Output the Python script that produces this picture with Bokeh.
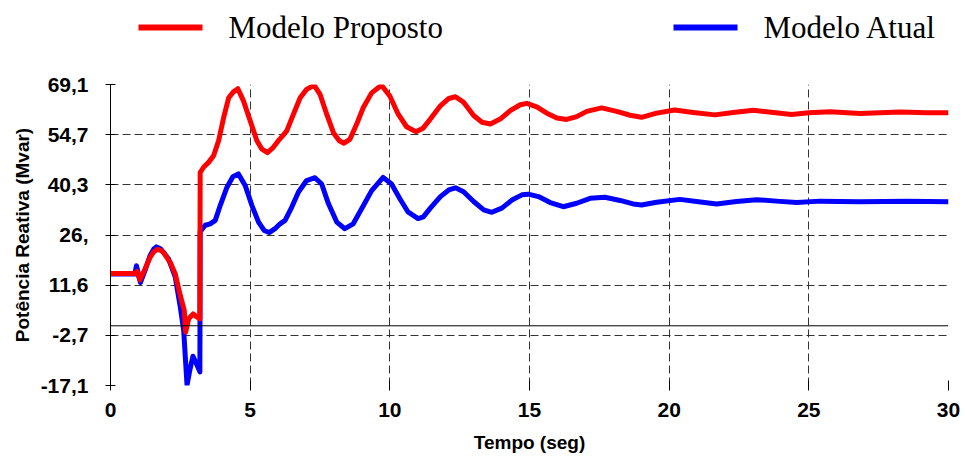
from bokeh.plotting import figure
from bokeh.layouts import column
from bokeh.models import FixedTicker, Span, Range1d
from bokeh.core.properties import value
from bokeh.embed import file_html
from bokeh.resources import INLINE

# ---- data ----
t_proposto = [0, 0.87, 0.95, 1.05, 1.23, 1.41, 1.55, 1.68, 1.80, 1.90, 2.14, 2.32, 2.50, 2.64,
              2.69, 2.80, 2.96, 3.08, 3.20, 3.21, 3.33, 3.51, 3.69, 3.87, 4.05, 4.23, 4.40,
              4.56, 4.76, 5.00, 5.24, 5.42, 5.62, 5.83, 6.05, 6.13, 6.31, 6.55, 6.79, 7.02,
              7.29, 7.50, 7.74, 7.98, 8.19, 8.36, 8.57, 8.81, 9.05, 9.35, 9.70, 10.00, 10.30,
              10.60, 10.93, 11.19, 11.45, 11.81, 12.11, 12.35, 12.64, 13.00, 13.30, 13.60,
              13.95, 14.31, 14.67, 14.90, 15.26, 15.62, 15.98, 16.33, 16.69, 17.05, 17.58,
              18.12, 18.60, 19.01, 19.55, 20.20, 20.86, 21.64, 22.29, 23.01, 23.73, 24.38,
              25.00, 25.76, 26.83, 28.27, 29.22, 30.00]
q_proposto = [15.0, 15.0, 15.6, 13.1, 16.2, 19.5, 21.2, 21.9, 21.6, 21.0, 18.1, 14.8, 8.6, 4.4,
              -1.8, 2.0, 3.4, 2.6, 2.0, 43.9, 45.4, 46.8, 48.7, 53.0, 59.6, 65.3, 67.0,
              67.9, 64.4, 58.7, 53.0, 50.6, 49.6, 51.1, 53.4, 54.1, 55.8, 60.6, 65.3, 67.7,
              68.9, 66.3, 60.6, 55.3, 53.0, 52.3, 53.4, 57.7, 62.5, 66.7, 68.9, 65.8, 60.6,
              57.0, 55.6, 56.6, 59.2, 63.0, 65.1, 65.6, 64.0, 60.2, 58.3, 57.8,
              59.2, 61.6, 63.3, 63.7, 62.7, 60.9, 59.5, 59.1, 59.9, 61.4, 62.4,
              61.4, 60.3, 59.7, 60.9, 61.8, 61.1, 60.4, 61.1, 61.7, 61.1, 60.5,
              61.0, 61.3, 60.8, 61.2, 61.0, 61.0]

t_atual = [0, 0.87, 0.93, 1.07, 1.23, 1.41, 1.55, 1.65, 1.80, 2.08, 2.32, 2.50, 2.62, 2.74,
           2.84, 2.95, 3.10, 3.20, 3.21, 3.39, 3.57, 3.75, 3.93, 4.17, 4.38, 4.58, 4.82,
           5.06, 5.30, 5.50, 5.68, 5.89, 6.07, 6.25, 6.49, 6.73, 7.02, 7.32, 7.56, 7.80,
           8.10, 8.39, 8.69, 8.99, 9.35, 9.76, 10.06, 10.36, 10.65, 11.01, 11.20, 11.45,
           11.81, 12.11, 12.35, 12.64, 13.00, 13.36, 13.65, 14.01, 14.37, 14.73, 14.96,
           15.32, 15.74, 16.21, 16.69, 17.17, 17.70, 18.24, 18.71, 19.01, 19.55, 20.38,
           20.98, 21.70, 22.41, 23.13, 23.84, 24.56, 25.40, 26.83, 28.51, 30.00]
q_atual = [14.8, 14.8, 17.2, 12.4, 15.7, 20.0, 22.0, 22.6, 22.0, 19.1, 13.9, 5.3, -1.3, -17.0,
           -12.7, -8.7, -11.3, -13.2, 26.9, 28.8, 29.2, 30.2, 34.5, 39.7, 42.7, 43.5, 40.2,
           34.5, 29.7, 27.3, 26.7, 27.8, 29.2, 30.2, 34.0, 38.3, 41.6, 42.4, 40.6, 35.0,
           29.7, 27.8, 29.2, 33.5, 38.7, 42.5, 40.6, 36.4, 32.6, 30.7, 31.2, 33.7,
           37.0, 38.9, 39.5, 38.4, 35.6, 33.2, 32.5, 33.7, 36.0, 37.5, 37.7,
           37.0, 35.3, 34.1, 35.1, 36.5, 36.8, 35.9, 34.9, 34.6, 35.4, 36.2,
           35.6, 34.9, 35.6, 36.1, 35.7, 35.3, 35.7, 35.5, 35.7, 35.5]

x_ticks = [0, 5, 10, 15, 20, 25, 30]
y_ticks = [-17.1, -2.7333, 11.6333, 26.0, 40.3667, 54.7333, 69.1]
y_tick_labels = ["-17,1", "-2,7", "11,6", "26,", "40,3", "54,7", "69,1"]
series_names = ["Modelo Proposto", "Modelo Atual"]
series_colors = ["#FF0000", "#0000FF"]
x_title = "Tempo (seg)"
y_title = "Potência Reativa (Mvar)"

LEG_H = 60
FRAME_L, FRAME_R = 110, 948

# ---------- main chart ----------
p = figure(width=965, height=459 - LEG_H, output_backend="svg", toolbar_location=None,
           x_range=Range1d(0, 30), y_range=Range1d(-17.1, 69.1),
           min_border_left=FRAME_L, min_border_right=965 - FRAME_R,
           min_border_top=84 - LEG_H, min_border_bottom=74)
p.outline_line_color = None
p.background_fill_color = "white"
p.border_fill_color = "white"

p.line(t_atual, q_atual, line_color=series_colors[1], line_width=5, line_join="round")
p.line(t_proposto, q_proposto, line_color=series_colors[0], line_width=5, line_join="round")

p.add_layout(Span(location=0, dimension="width", line_color="black", line_width=1))

p.xaxis.ticker = FixedTicker(ticks=x_ticks)
p.yaxis.ticker = FixedTicker(ticks=y_ticks)
p.yaxis.major_label_overrides = {v: s for v, s in zip(y_ticks, y_tick_labels)}
for ax in (p.xaxis[0], p.yaxis[0]):
    ax.major_tick_in = 5
    ax.major_tick_out = 5
    ax.minor_tick_in = 0
    ax.minor_tick_out = 0
    ax.major_tick_line_color = "black"
    ax.major_label_text_font = "Liberation Sans"
    ax.major_label_text_font_style = "bold"
    ax.major_label_text_font_size = "21px"
    ax.major_label_text_color = "black"
    ax.axis_label_text_font = "Liberation Sans"
    ax.axis_label_text_font_style = "bold"
    ax.axis_label_text_font_size = "19px"
    ax.axis_label_text_color = "black"
p.yaxis.major_label_standoff = 17
p.xaxis.major_label_standoff = 12
p.xaxis.axis_line_color = None
p.yaxis.axis_line_color = "black"
p.xaxis.axis_label = x_title
p.xaxis.axis_label_standoff = 12
p.yaxis.axis_label = y_title
p.yaxis.axis_label_standoff = 5

p.xgrid.ticker = FixedTicker(ticks=x_ticks)
p.ygrid.ticker = FixedTicker(ticks=y_ticks)
for g in (p.xgrid[0], p.ygrid[0]):
    g.grid_line_color = "#333333"
    g.grid_line_dash = "8 4"
    g.grid_line_width = 1

# ---------- legend strip (pixel-like coordinates, y downwards) ----------
# the column aligns this strip's frame with the chart's frame, so its x range
# covers the same horizontal pixel span
pl = figure(width=965, height=LEG_H, output_backend="svg", toolbar_location=None,
            x_range=Range1d(FRAME_L, FRAME_R), y_range=Range1d(LEG_H, 0),
            x_axis_location=None, y_axis_location=None, min_border=0)
pl.outline_line_color = None
pl.grid.visible = False
pl.background_fill_color = "white"
pl.border_fill_color = "white"

swatch_x0 = [138, 673]
pl.segment(x0=swatch_x0, y0=[27, 27], x1=[x + 64 for x in swatch_x0], y1=[27, 27],
           line_color=series_colors, line_width=6)
pl.text(x=[x + 90 for x in swatch_x0], y=[27, 27], text=series_names,
        text_font=value("Liberation Serif"), text_font_size="31px",
        text_color="black", text_align="left", text_baseline="middle")

layout = column(pl, p, spacing=0)
open("out.html", "w").write(file_html(layout, INLINE))
